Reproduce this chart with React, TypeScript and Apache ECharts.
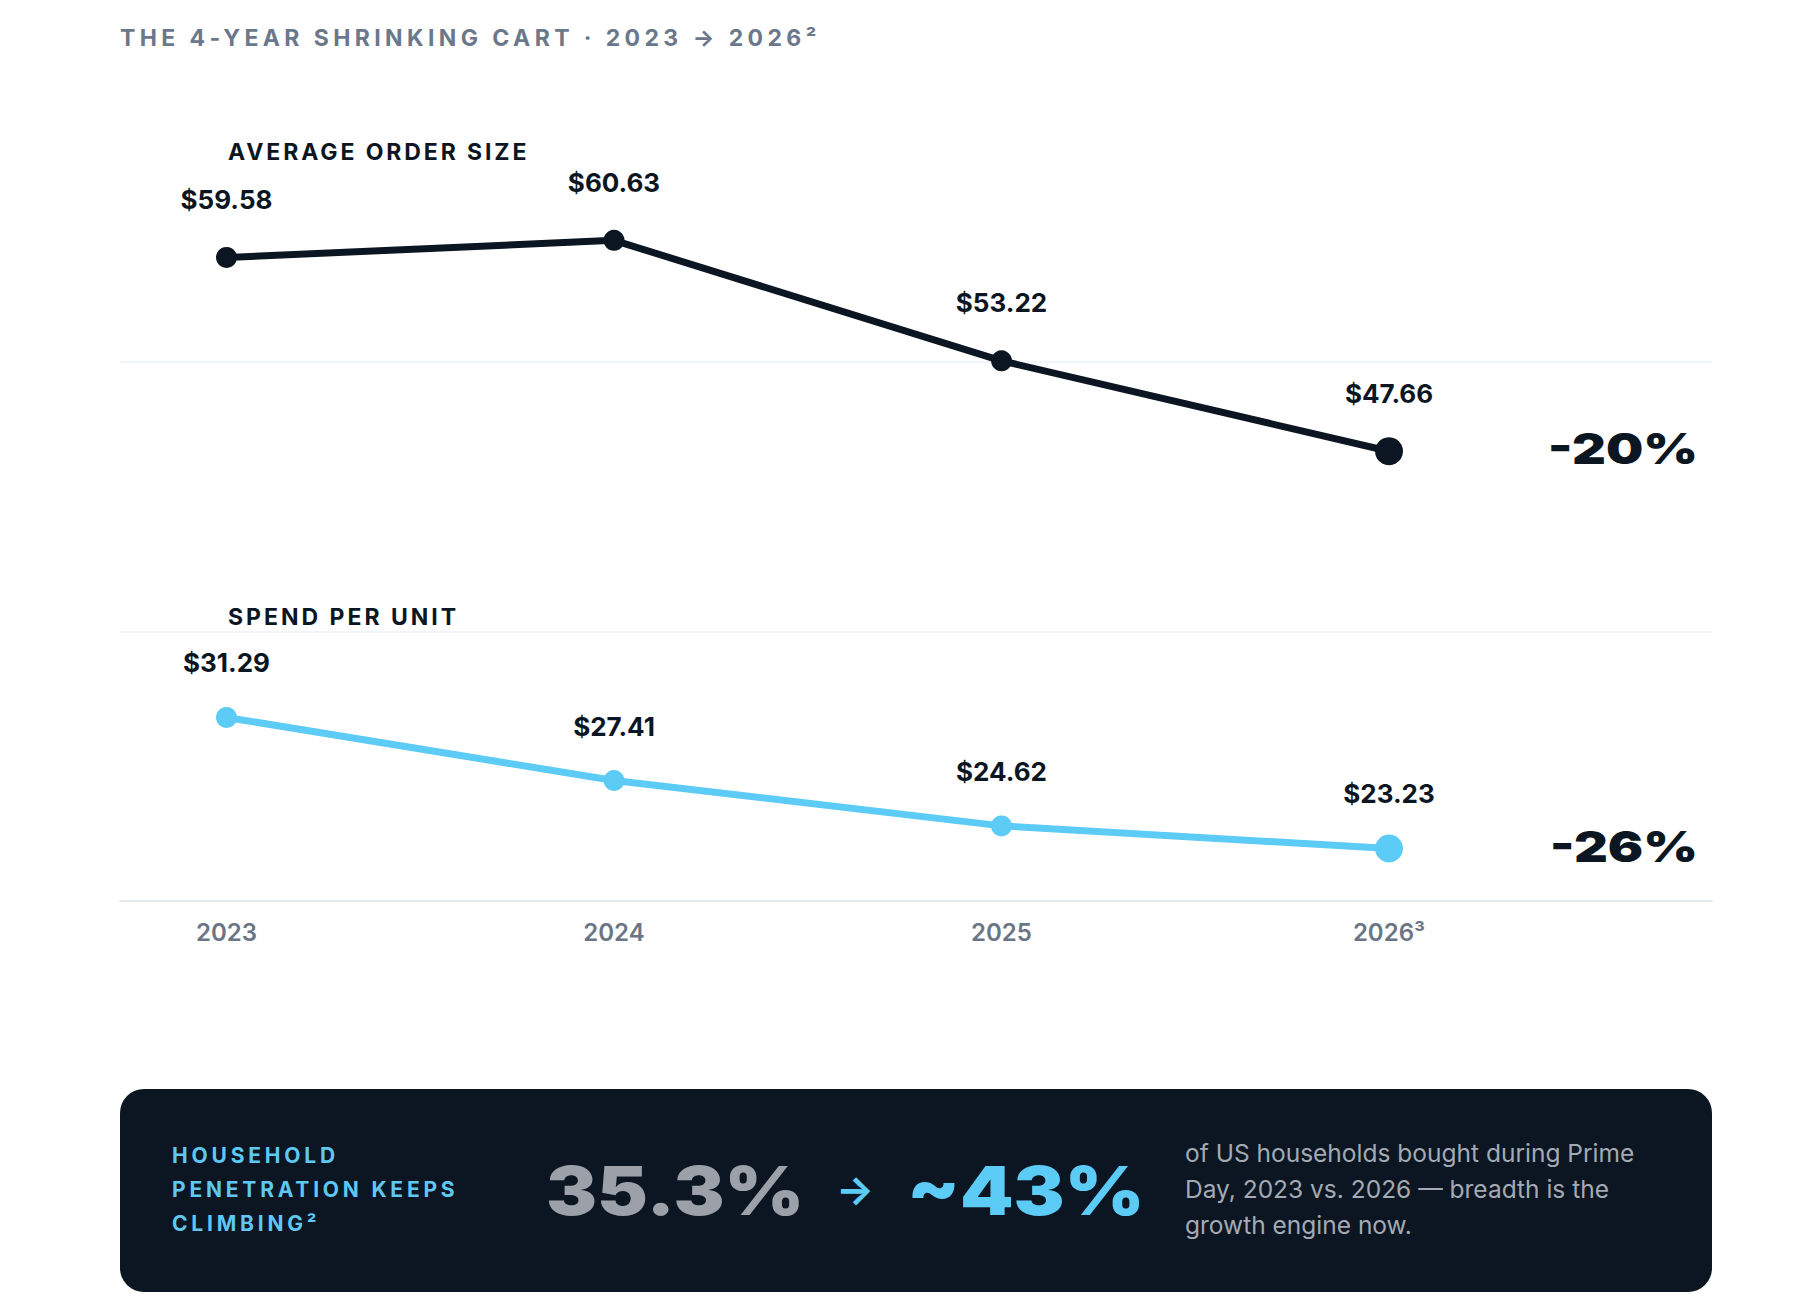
import React, { useEffect, useRef } from "react";
import * as echarts from "echarts";

const TITLE = "THE 4-YEAR SHRINKING CART · 2023 → 2026²";
const SERIES_A_NAME = "AVERAGE ORDER SIZE";
const SERIES_B_NAME = "SPEND PER UNIT";
const years = ["2023", "2024", "2025", "2026³"];
const avgOrderSize = [59.58, 60.63, 53.22, 47.66];
const spendPerUnit = [31.29, 27.41, 24.62, 23.23];
const boxLabelLines = ["HOUSEHOLD", "PENETRATION KEEPS", "CLIMBING²"];
const penetrationFrom = "35.3%";
const penetrationTo = "~43%";
const boxNoteLines = [
  "of US households bought during Prime",
  "Day, 2023 vs. 2026 — breadth is the",
  "growth engine now.",
];

const NAVY = "#0b1622";
const BLUE = "#5ccbf5";
const FONT = "Inter, 'Noto Sans', sans-serif";

const SPACING: Record<string, number> = {
  [TITLE]: 4.4,
  [SERIES_A_NAME]: 2.9,
  [SERIES_B_NAME]: 3.0,
  HOUSEHOLD: 3.8,
  "PENETRATION KEEPS": 3.8,
  "CLIMBING²": 3.8,
};

function pctChange(arr: number[]): string {
  const p = Math.round((arr[arr.length - 1] / arr[0] - 1) * 100);
  return (p < 0 ? "-" : "+") + Math.abs(p) + "%";
}

function lineSeries(name: string, data: number[], color: string, labelDy: number) {
  const last = data.length - 1;
  return {
    name,
    type: "line",
    xAxisIndex: 1,
    yAxisIndex: 1,
    data,
    symbol: "circle",
    symbolSize: (_v: any, p: any) => (p.dataIndex === last ? 28 : 21),
    lineStyle: { color, width: 7 },
    itemStyle: { color },
    emphasis: { disabled: true },
    label: {
      show: true,
      position: "inside",
      offset: [0, labelDy],
      formatter: (p: any) => "$" + Number(p.value).toFixed(2),
      fontFamily: FONT,
      fontSize: 26,
      fontWeight: 700,
      color: NAVY,
    },
    z: 3,
  };
}

export default function App() {
  const ref = useRef<HTMLDivElement>(null);
  useEffect(() => {
    if (!ref.current) return;
    const chart = echarts.init(ref.current, undefined, { renderer: "svg" });
    const option: any = {
      animation: false,
      backgroundColor: "#ffffff",
      grid: [
        { left: 120, right: 96, top: 92.5, bottom: 413 },
        { left: 226.5, right: 419, top: 88, bottom: 413 },
      ],
      xAxis: [
        {
          gridIndex: 0,
          type: "value",
          min: 0,
          max: 1,
          axisLine: { show: true, onZero: false, lineStyle: { color: "#e3e7ee", width: 2 } },
          axisTick: { show: false },
          axisLabel: { show: false },
          splitLine: { show: false },
        },
        {
          gridIndex: 1,
          type: "category",
          data: years,
          boundaryGap: false,
          axisLine: { show: false },
          axisTick: { show: false },
          axisLabel: {
            margin: 19,
            fontFamily: FONT,
            fontSize: 24,
            fontWeight: 600,
            color: "#6b7585",
          },
          splitLine: { show: false },
        },
      ],
      yAxis: [
        {
          gridIndex: 0,
          type: "value",
          min: 0,
          max: 3,
          interval: 1,
          axisLine: { show: false },
          axisTick: { show: false },
          axisLabel: { show: false },
          splitLine: {
            show: true,
            showMinLine: false,
            showMaxLine: false,
            lineStyle: { color: "#f1f4f8", width: 2 },
          },
        },
        {
          gridIndex: 1,
          type: "value",
          min: 20,
          max: 70,
          axisLine: { show: false },
          axisTick: { show: false },
          axisLabel: { show: false },
          splitLine: { show: false },
        },
      ],
      series: [
        lineSeries(SERIES_A_NAME, avgOrderSize, NAVY, -58),
        lineSeries(SERIES_B_NAME, spendPerUnit, BLUE, -54.5),
      ],
    };
    chart.setOption(option);

    const lastIdx = years.length - 1;
    const pA = chart.convertToPixel({ xAxisIndex: 1, yAxisIndex: 1 } as any, [lastIdx, avgOrderSize[lastIdx]]) as number[];
    const pB = chart.convertToPixel({ xAxisIndex: 1, yAxisIndex: 1 } as any, [lastIdx, spendPerUnit[lastIdx]]) as number[];

    const bigPct = (text: string, y: number) => ({
      type: "text",
      x: 1698,
      y: y - 2,
      scaleX: 1.22,
      style: {
        text,
        fontFamily: FONT,
        fontSize: 43,
        fontWeight: 900,
        fill: NAVY,
        align: "right",
        verticalAlign: "middle",
      },
    });

    chart.setOption({
      graphic: [
        {
          type: "text",
          x: 120,
          y: 37.5,
          style: { text: TITLE, fontFamily: FONT, fontSize: 23, fontWeight: 700, fill: "#6b778a", verticalAlign: "middle" },
        },
        {
          type: "text",
          x: 228,
          y: 152.4,
          style: { text: SERIES_A_NAME, fontFamily: FONT, fontSize: 23, fontWeight: 700, fill: NAVY, verticalAlign: "middle" },
        },
        {
          type: "text",
          x: 228,
          y: 616.7,
          style: { text: SERIES_B_NAME, fontFamily: FONT, fontSize: 23, fontWeight: 700, fill: NAVY, verticalAlign: "middle" },
        },
        bigPct(pctChange(avgOrderSize), pA[1]),
        bigPct(pctChange(spendPerUnit), pB[1]),
        {
          type: "rect",
          shape: { x: 120, y: 1089, width: 1592, height: 203, r: 24 },
          style: { fill: NAVY },
        },
        {
          type: "text",
          x: 172,
          y: 1189.5,
          style: {
            text: boxLabelLines.join("\n"),
            fontFamily: FONT,
            fontSize: 21,
            fontWeight: 700,
            lineHeight: 34,
            fill: "#5ec8f2",
            verticalAlign: "middle",
          },
        },
        {
          type: "text",
          x: 546,
          y: 1190,
          scaleX: 1.14,
          style: { text: penetrationFrom, fontFamily: FONT, fontSize: 67, fontWeight: 900, fill: "#9ca0a8", verticalAlign: "middle" },
        },
        {
          type: "text",
          x: 855,
          y: 1189,
          style: { text: "→", fontFamily: FONT, fontSize: 40, fontWeight: 700, fill: BLUE, align: "center", verticalAlign: "middle" },
        },
        {
          type: "text",
          x: 907,
          y: 1190,
          scaleX: 1.14,
          style: { text: penetrationTo, fontFamily: FONT, fontSize: 67, fontWeight: 900, fill: BLUE, verticalAlign: "middle" },
        },
        {
          type: "text",
          x: 1185,
          y: 1189,
          style: {
            text: boxNoteLines.join("\n"),
            fontFamily: FONT,
            fontSize: 24.5,
            fontWeight: 400,
            lineHeight: 36,
            fill: "#a3aab4",
            verticalAlign: "middle",
          },
        },
      ],
    });

    const applySpacing = () => {
      ref.current?.querySelectorAll("text").forEach((t) => {
        const ls = SPACING[(t.textContent || "").trim()];
        if (ls) (t as SVGTextElement).style.letterSpacing = ls + "px";
      });
    };
    applySpacing();
    chart.on("finished", applySpacing);

    return () => {
      chart.dispose();
    };
  }, []);

  return (
    <div
      ref={ref}
      style={{ position: "fixed", left: 0, top: 0, width: 1808, height: 1314, background: "#fff" }}
    />
  );
}
